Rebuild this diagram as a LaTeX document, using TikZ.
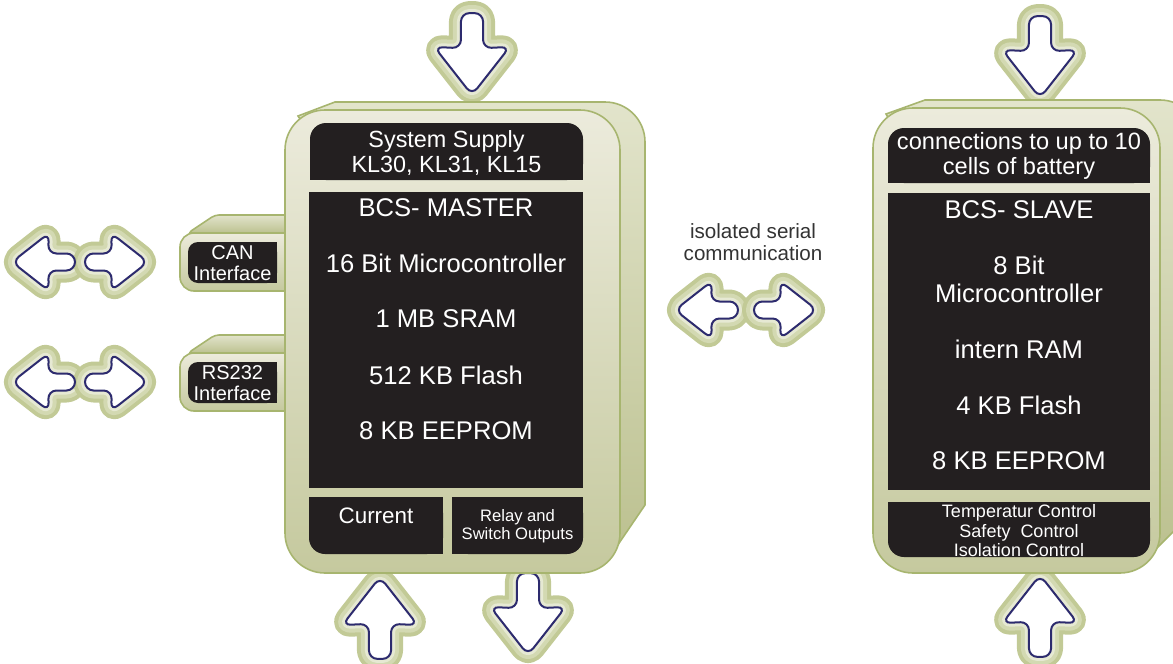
\documentclass[tikz,border=0pt]{standalone}
\usepackage{fontspec}
\setmainfont{Liberation Sans}
\usetikzlibrary{positioning,calc}

\definecolor{boxedge}{HTML}{A7B56F}
\definecolor{facetop}{HTML}{ECEBDC}
\definecolor{facebot}{HTML}{C5C99E}
\definecolor{sidetop}{HTML}{E2E4CB}
\definecolor{sidebot}{HTML}{BCC190}
\definecolor{panelblack}{HTML}{231F20}
\definecolor{glowout}{HTML}{C2CA96}
\definecolor{glowmid}{HTML}{D3D9B2}
\definecolor{glowin}{HTML}{E6E9D3}
\definecolor{arrowline}{HTML}{2D2B6E}
\definecolor{midtext}{HTML}{333333}

\tikzset{
  arrowglow/.pic={
    \foreach \lw/\cl in {12pt/glowout, 8pt/glowmid, 4pt/glowin}
      \path[draw=\cl, fill=\cl, line width=\lw, line join=round, rounded corners=4.25pt]
        (0,0) -- (-37,29) -- (-36,8.5) -- (-63,8.5) -- (-63,-8.5)
        -- (-36,-8.5) -- (-37,-29) -- cycle;
  },
  arrowface/.pic={
    \path[draw=arrowline, fill=white, line width=1pt, rounded corners=4.25pt]
      (0,0) -- (-37,29) -- (-36,8.5) -- (-63,8.5) -- (-63,-8.5)
      -- (-36,-8.5) -- (-37,-29) -- cycle;
  },
  front/.style={draw=boxedge, line width=0.8pt, top color=facetop, bottom color=facebot},
  side/.style={draw=boxedge, line width=0.8pt, top color=sidetop, bottom color=sidebot},
  panel/.style={fill=panelblack},
  paneltext/.style={text=white, align=center, inner sep=0pt},
  bigtext/.style={paneltext, font=\fontsize{12.8}{15}\selectfont},
}

% tip x / tip y / rotation / scale
\def\arrowlist{12/262/180/1, 148/262/0/1, 12/382/180/1, 148/382/0/1,
  675/310/180/1, 817/310/0/1, 472/95/-90/1.3, 380/577/90/1.3,
  528/655/-90/1.3, 1040/98/-90/1.3, 1040/575/90/1.3}

\begin{document}
\begin{tikzpicture}[x=0.5pt, y=-0.5pt]
  \useasboundingbox (0,0) rectangle (1173,664);
  \clip (0,0) rectangle (1173,664);

  % arrows
  \foreach \ax/\ay/\rot/\sc in \arrowlist
    \pic[rotate=\rot, scale=\sc] at (\ax,\ay) {arrowglow};
  \foreach \ax/\ay/\rot/\sc in \arrowlist
    \pic[rotate=\rot, scale=\sc] at (\ax,\ay) {arrowface};

  % interface tabs
  \foreach \dy/\txt/\nm in {0/CAN/cantab, 120/RS232/rstab} {
    \begin{scope}[yshift=-\dy*0.5pt]
      \shade[side, rounded corners=2pt] (310,215) -- (215,215) -- (188,233) -- (310,233) -- cycle;
      \shade[front, rounded corners=7pt] (310,233) -- (180,233) -- (180,291) -- (310,291) -- cycle;
      \fill[panel, rounded corners=5pt] (188,242) rectangle (277,283);
      \fill[panel] (240,242) rectangle (277,283);
      \node[paneltext, font=\fontsize{10}{10.3}\selectfont] (\nm) at (232.5,263) {\txt\\Interface};
    \end{scope}
  }

  % master
  \shade[side] (298,116) -- (335,102) -- (605,102) arc (-90:0:40) -- (645,505) -- (613,552) -- (600,552) -- cycle;
  \shade[front, rounded corners=20pt] (285,110) rectangle (620,573);
  \fill[panel, rounded corners=8pt] (310,123) rectangle (583,180);
  \fill[panel] (310,150) rectangle (583,180);
  \fill[panel] (309,192) rectangle (583,488);
  \fill[panel, rounded corners=8pt] (309,497) rectangle (443,554);
  \fill[panel] (309,497) rectangle (443,520);
  \fill[panel] (380,497) rectangle (443,554);
  \fill[panel, rounded corners=8pt] (452,497) rectangle (583,554);
  \fill[panel] (452,497) rectangle (583,520);
  \fill[panel] (452,497) rectangle (520,554);

  \node[paneltext, font=\fontsize{11.7}{12.5}\selectfont] (supply) at (446.5,153) {System Supply\\KL30, KL31, KL15};
  \foreach \yy/\txt/\nm in {208/BCS- MASTER/mtitle, 263/16 Bit Microcontroller/mcpu,
      319/1 MB SRAM/msram, 375/512 KB Flash/mflash, 431/8 KB EEPROM/meeprom}
    \node[bigtext] (\nm) at (446,\yy) {\txt};
  \node[paneltext, font=\fontsize{11.2}{12}\selectfont] (current) at (376,516) {Current};
  \node[paneltext, font=\fontsize{8.3}{9}\selectfont] (relay) at (517.5,526) {Relay and\\Switch Outputs};

  % slave
  \shade[side] (886,114) -- (925,100) -- (1160,100) arc (-90:0:40) -- (1200,505) -- (1153,552) -- (1140,552) -- cycle;
  \shade[front, rounded corners=20pt] (873,108) rectangle (1160,573);
  \fill[panel, rounded corners=8pt] (888,128) rectangle (1150,183);
  \fill[panel] (888,155) rectangle (1150,183);
  \fill[panel] (888,193) rectangle (1150,490);
  \fill[panel, rounded corners=8pt] (888,502) rectangle (1150,557);
  \fill[panel] (888,502) rectangle (1150,530);

  \node[paneltext, font=\fontsize{11.8}{12.5}\selectfont] (cells) at (1019,156) {connections to up to 10\\cells of battery};
  \foreach \yy/\txt/\nm in {210/BCS- SLAVE/stitle, 265/8 Bit/scpu, 293/Microcontroller/smicro,
      349/intern RAM/sram, 405/4 KB Flash/sflash, 461/8 KB EEPROM/seeprom}
    \node[bigtext] (\nm) at (1019,\yy) {\txt};
  \node[paneltext, font=\fontsize{9}{9.75}\selectfont] (control) at (1019,531)
    {Temperatur Control\\Safety\ \ Control\\Isolation Control};

  % link label
  \node[text=midtext, align=center, inner sep=0pt, font=\fontsize{10.3}{11}\selectfont] (serial) at (753,242)
    {isolated serial\\communication};
\end{tikzpicture}
\end{document}
